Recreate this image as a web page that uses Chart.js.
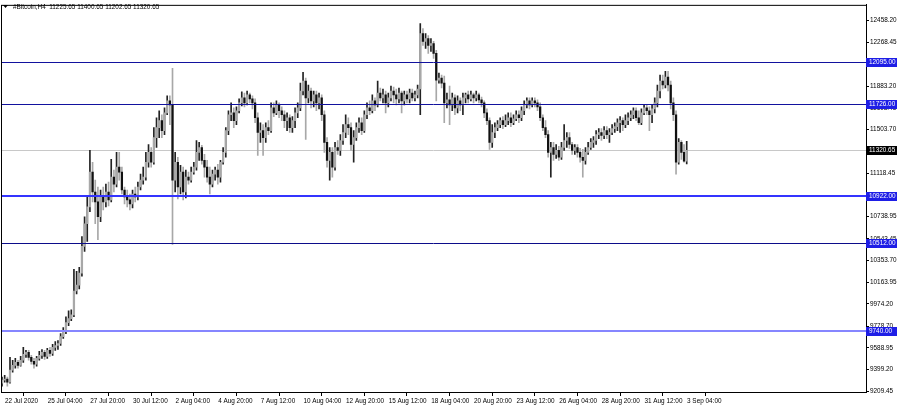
<!DOCTYPE html>
<html>
<head>
<meta charset="utf-8">
<script src="https://cdn.jsdelivr.net/npm/chart.js@4.4.1/dist/chart.umd.min.js"></script>
<style>
  html, body { margin: 0; padding: 0; background: #fff; }
  canvas { display: block; }
</style>
</head>
<body>
<canvas id="btcChart" width="900" height="407"></canvas>
<script>
// #Bitcoin H4, 22 Jul 2020 12:00 .. 3 Sep 2020 08:00
const opens = [
  9279, 9305, 9314, 9288, 9392, 9435, 9461, 9435, 9479, 9531,
  9548, 9505, 9470, 9444, 9496, 9522, 9548, 9514, 9566, 9540,
  9592, 9609, 9626, 9687, 9739, 9809, 9844, 9878, 10087, 10139,
  10243, 10478, 10677, 10825, 11129, 10955, 10869, 10738, 10912, 10869,
  10955, 10886, 11086, 11025, 11173, 11129, 10973, 10912, 10886, 10851,
  10938, 10912, 10999, 11060, 11086, 11216, 11303, 11216, 11433, 11520,
  11581, 11494, 11650, 11755, 11720, 11060, 11216, 10999, 11129, 10955,
  11086, 11060, 11129, 11173, 11303, 11346, 11233, 11173, 11086, 11025,
  11112, 11147, 11086, 11216, 11303, 11494, 11633, 11650, 11581, 11668,
  11737, 11781, 11737, 11807, 11772, 11737, 11607, 11477, 11494, 11433,
  11520, 11494, 11694, 11650, 11720, 11668, 11633, 11581, 11607, 11520,
  11581, 11650, 11694, 11841, 11928, 11781, 11841, 11755, 11807, 11737,
  11781, 11633, 11390, 11233, 11303, 11173, 11346, 11320, 11407, 11477,
  11546, 11520, 11372, 11433, 11520, 11563, 11494, 11633, 11694, 11668,
  11755, 11720, 11824, 11781, 11807, 11737, 11781, 11841, 11807, 11772,
  11824, 11755, 11807, 11772, 11824, 11781, 11807, 11859, 12345, 12276,
  12302, 12241, 12258, 12172, 11937, 11954, 11911, 11737, 11763, 11720,
  11781, 11694, 11755, 11720, 11781, 11807, 11772, 11807, 11781, 11807,
  11763, 11737, 11650, 11581, 11390, 11477, 11520, 11546, 11581, 11546,
  11581, 11607, 11563, 11598, 11633, 11607, 11668, 11720, 11755, 11720,
  11755, 11737, 11702, 11607, 11520, 11459, 11303, 11346, 11286, 11320,
  11260, 11346, 11407, 11433, 11372, 11320, 11346, 11303, 11260, 11233,
  11303, 11346, 11390, 11407, 11459, 11477, 11451, 11494, 11459, 11477,
  11511, 11529, 11563, 11581, 11546, 11581, 11607, 11633, 11668, 11607,
  11563, 11650, 11694, 11668, 11633, 11685, 11737, 11841, 11928, 11894,
  11963, 11894, 11737, 11633, 11216, 11390, 11303, 11225.65
];
const highs = [
  9331, 9348, 9331, 9505, 9479, 9496, 9479, 9514, 9592, 9566,
  9566, 9522, 9496, 9514, 9557, 9574, 9566, 9583, 9592, 9618,
  9644, 9652, 9713, 9765, 9861, 9913, 9922, 10278, 10260, 10295,
  10565, 10738, 10912, 11320, 11216, 11060, 10999, 10973, 10999, 11025,
  11042, 11242, 11147, 11303, 11303, 11173, 10999, 10973, 10938, 10973,
  10999, 11042, 11112, 11173, 11303, 11372, 11346, 11520, 11607, 11668,
  11633, 11694, 11798, 11798, 12041, 11303, 11260, 11190, 11173, 11147,
  11129, 11173, 11216, 11407, 11390, 11364, 11286, 11233, 11173, 11147,
  11173, 11199, 11233, 11346, 11520, 11668, 11737, 11694, 11702, 11772,
  11833, 11824, 11841, 11824, 11798, 11772, 11650, 11563, 11546, 11563,
  11581, 11737, 11737, 11755, 11737, 11702, 11668, 11650, 11633, 11616,
  11694, 11737, 11911, 12006, 11954, 11894, 11868, 11841, 11841, 11824,
  11807, 11668, 11433, 11346, 11346, 11390, 11407, 11459, 11546, 11633,
  11607, 11563, 11494, 11563, 11607, 11607, 11668, 11737, 11755, 11807,
  11781, 11928, 11868, 11859, 11841, 11824, 11885, 11876, 11859, 11868,
  11841, 11841, 11841, 11859, 11859, 11841, 11894, 12432, 12389, 12345,
  12328, 12302, 12276, 12198, 11998, 11980, 11972, 11824, 11885, 11824,
  11807, 11798, 11781, 11824, 11824, 11841, 11841, 11824, 11841, 11824,
  11789, 11755, 11685, 11607, 11546, 11563, 11581, 11607, 11616, 11633,
  11650, 11650, 11633, 11668, 11668, 11702, 11755, 11781, 11781, 11781,
  11781, 11763, 11737, 11633, 11581, 11494, 11390, 11390, 11372, 11355,
  11390, 11546, 11477, 11477, 11390, 11372, 11372, 11338, 11329, 11346,
  11390, 11424, 11442, 11494, 11511, 11511, 11529, 11529, 11511, 11546,
  11563, 11598, 11616, 11607, 11633, 11650, 11668, 11694, 11694, 11668,
  11685, 11720, 11720, 11702, 11720, 11781, 11894, 11980, 11980, 12015,
  12015, 11928, 11781, 11668, 11424, 11407, 11372, 11400.65
];
const lows = [
  9253, 9288, 9253, 9279, 9374, 9409, 9409, 9427, 9461, 9505,
  9479, 9444, 9409, 9427, 9479, 9496, 9487, 9496, 9514, 9522,
  9566, 9574, 9609, 9670, 9713, 9783, 9826, 9861, 10061, 10104,
  10217, 10434, 10521, 10782, 10869, 10677, 10538, 10695, 10799, 10825,
  10834, 10869, 10955, 10999, 11060, 10938, 10851, 10825, 10799, 10816,
  10869, 10886, 10973, 11025, 11060, 11173, 11173, 11199, 11346, 11433,
  11433, 11459, 11633, 11546, 10495, 10955, 10895, 10938, 10886, 10903,
  11025, 11042, 11112, 11147, 11233, 11199, 11086, 11042, 10938, 10999,
  11060, 11025, 11042, 11199, 11260, 11459, 11581, 11520, 11546, 11650,
  11711, 11702, 11720, 11737, 11685, 11563, 11277, 11390, 11277, 11390,
  11459, 11477, 11616, 11633, 11607, 11581, 11520, 11494, 11477, 11477,
  11520, 11607, 11668, 11807, 11416, 11737, 11694, 11702, 11668, 11685,
  11581, 11303, 11173, 11060, 11086, 11147, 11286, 11277, 11372, 11433,
  11459, 11320, 11216, 11407, 11477, 11459, 11477, 11598, 11633, 11650,
  11668, 11702, 11755, 11737, 11650, 11702, 11755, 11737, 11720, 11737,
  11650, 11720, 11737, 11737, 11755, 11755, 11781, 11633, 12241, 12215,
  12172, 12189, 12128, 11755, 11911, 11868, 11563, 11694, 11546, 11668,
  11633, 11650, 11668, 11633, 11737, 11737, 11755, 11737, 11755, 11737,
  11702, 11607, 11546, 11329, 11346, 11433, 11494, 11520, 11511, 11529,
  11546, 11529, 11546, 11581, 11563, 11581, 11633, 11694, 11685, 11702,
  11702, 11668, 11581, 11494, 11433, 11260, 11086, 11233, 11251, 11233,
  11242, 11320, 11346, 11338, 11286, 11286, 11260, 11216, 11086, 11199,
  11286, 11329, 11346, 11372, 11424, 11407, 11424, 11424, 11390, 11459,
  11477, 11494, 11477, 11494, 11520, 11546, 11581, 11598, 11581, 11546,
  11546, 11633, 11633, 11494, 11563, 11650, 11702, 11781, 11859, 11868,
  11841, 11685, 11581, 11112, 11199, 11242, 11216, 11202.65
];
const closes = [
  9305, 9314, 9288, 9392, 9435, 9461, 9435, 9479, 9531, 9548,
  9505, 9470, 9444, 9496, 9522, 9548, 9514, 9566, 9540, 9592,
  9609, 9626, 9687, 9739, 9809, 9844, 9878, 10087, 10139, 10243,
  10478, 10677, 10825, 11129, 10955, 10869, 10738, 10912, 10869, 10955,
  10886, 11086, 11025, 11173, 11129, 10973, 10912, 10886, 10851, 10938,
  10912, 10999, 11060, 11086, 11216, 11303, 11216, 11433, 11520, 11581,
  11494, 11650, 11755, 11720, 11060, 11216, 10999, 11129, 10955, 11086,
  11060, 11129, 11173, 11303, 11346, 11233, 11173, 11086, 11025, 11112,
  11147, 11086, 11216, 11303, 11494, 11633, 11650, 11581, 11668, 11737,
  11781, 11737, 11807, 11772, 11737, 11607, 11477, 11494, 11433, 11520,
  11494, 11694, 11650, 11720, 11668, 11633, 11581, 11607, 11520, 11581,
  11650, 11694, 11841, 11928, 11781, 11841, 11755, 11807, 11737, 11781,
  11633, 11390, 11233, 11303, 11173, 11346, 11320, 11407, 11477, 11546,
  11520, 11372, 11433, 11520, 11563, 11494, 11633, 11694, 11668, 11755,
  11720, 11824, 11781, 11807, 11737, 11781, 11841, 11807, 11772, 11824,
  11755, 11807, 11772, 11824, 11781, 11807, 11859, 12345, 12276, 12302,
  12241, 12258, 12172, 11937, 11954, 11911, 11737, 11763, 11720, 11781,
  11694, 11755, 11720, 11781, 11807, 11772, 11807, 11781, 11807, 11763,
  11737, 11650, 11581, 11390, 11477, 11520, 11546, 11581, 11546, 11581,
  11607, 11563, 11598, 11633, 11607, 11668, 11720, 11755, 11720, 11755,
  11737, 11702, 11607, 11520, 11459, 11303, 11346, 11286, 11320, 11260,
  11346, 11407, 11433, 11372, 11320, 11346, 11303, 11260, 11233, 11303,
  11346, 11390, 11407, 11459, 11477, 11451, 11494, 11459, 11477, 11511,
  11529, 11563, 11581, 11546, 11581, 11607, 11633, 11668, 11607, 11563,
  11650, 11694, 11668, 11633, 11685, 11737, 11841, 11928, 11894, 11963,
  11894, 11737, 11633, 11216, 11390, 11303, 11225, 11320.65
];

// time axis: bar index -> label
const tickBars = [0, 16, 32, 48, 64, 80, 96, 112, 128, 144, 160, 176, 192, 208, 224, 240, 256];
const tickLabels = ['22 Jul 2020', '25 Jul 04:00', '27 Jul 20:00', '30 Jul 12:00', '2 Aug 04:00',
  '4 Aug 20:00', '7 Aug 12:00', '10 Aug 04:00', '12 Aug 20:00', '15 Aug 12:00', '18 Aug 04:00',
  '20 Aug 20:00', '23 Aug 12:00', '26 Aug 04:00', '28 Aug 20:00', '31 Aug 12:00', '3 Sep 04:00'];

const priceTicks = [9209.45, 9399.20, 9588.95, 9778.70, 9974.20, 10163.95, 10353.70, 10543.45,
  10738.95, 10928.70, 11118.45, 11308.20, 11503.70, 11693.45, 11883.20, 12078.95, 12268.45, 12458.20];

const levels = [12095.00, 11726.00, 10922.00, 10512.00, 9740.00];
const levelColors = ['#12129e', '#12129e', '#3434ff', '#0c0c8a', '#8686ff'];
const levelWidths = [1, 1, 2, 1, 2];
const lastPrice = 11320.65;
const symbolText = '#Bitcoin,H4  11225.65 11400.65 11202.65 11320.65';

const FONT = '"Liberation Sans", Arial, sans-serif';
const bodyColors = closes.map((c, i) => c >= opens[i] ? '#a8a8a8' : '#111111');
const wickColors = closes.map((c, i) => c >= opens[i] ? '#222222' : '#a8a8a8');

const overlay = {
  id: 'overlay',
  beforeDatasetsDraw(chart) {
    const { ctx, chartArea: a, scales: { y } } = chart;
    ctx.save();
    ctx.strokeStyle = '#c8c8c8';
    ctx.lineWidth = 1;
    const py = Math.round(y.getPixelForValue(lastPrice)) + 0.5;
    ctx.beginPath(); ctx.moveTo(a.left, py); ctx.lineTo(a.right, py); ctx.stroke();
    ctx.restore();
  },
  afterDatasetsDraw(chart) {
    const { ctx, chartArea: a, scales: { y } } = chart;
    ctx.save();
    levels.forEach((v, k) => {
      const w = levelWidths[k];
      const py = Math.round(y.getPixelForValue(v)) + (w % 2 ? 0.5 : 0);
      ctx.strokeStyle = levelColors[k];
      ctx.lineWidth = w;
      ctx.beginPath(); ctx.moveTo(a.left, py); ctx.lineTo(a.right, py); ctx.stroke();
    });
    ctx.restore();
  },
  afterDraw(chart) {
    const { ctx, chartArea: a, scales: { y } } = chart;
    ctx.save();
    // frame
    ctx.strokeStyle = '#000';
    ctx.lineWidth = 1;
    ctx.strokeRect(a.left + 0.5, a.top + 0.5, a.right - a.left, a.bottom - a.top);

    // price boxes on the axis
    ctx.font = '6.4px ' + FONT;
    ctx.textBaseline = 'middle';
    const box = (v, bg) => {
      const py = Math.round(y.getPixelForValue(v));
      ctx.fillStyle = bg;
      ctx.fillRect(a.right, py - 4, 31, 9);
      ctx.fillStyle = '#fff';
      ctx.fillText(v.toFixed(2), a.right + 3, py + 0.5);
    };
    levels.forEach(v => box(v, '#1e1ee6'));
    box(lastPrice, '#000');

    // symbol header
    ctx.fillStyle = '#000';
    ctx.beginPath();
    ctx.moveTo(3, 5); ctx.lineTo(8, 5); ctx.lineTo(5.5, 8); ctx.closePath(); ctx.fill();
    ctx.font = '6.4px ' + FONT;
    ctx.textBaseline = 'middle';
    ctx.fillText(symbolText, 13, 7);
    ctx.restore();
  }
};

const idx = closes.map((_, i) => i);

new Chart(document.getElementById('btcChart'), {
  type: 'bar',
  data: {
    datasets: [{
      label: 'body',
      data: idx.map(i => ({ x: i, y: [opens[i], closes[i]] })),
      backgroundColor: bodyColors,
      barThickness: 1.6,
      minBarLength: 1,
      grouped: false
    }, {
      label: 'wick',
      data: idx.map(i => ({ x: i, y: [lows[i], highs[i]] })),
      backgroundColor: wickColors,
      barThickness: 1,
      grouped: false
    }]
  },
  options: {
    responsive: false,
    animation: false,
    devicePixelRatio: 1,
    layout: { padding: { left: 1, top: 1, right: 0, bottom: 0 } },
    plugins: {
      legend: { display: false },
      tooltip: { enabled: false }
    },
    scales: {
      x: {
        type: 'linear',
        min: -0.375,
        max: 324.3,
        offset: false,
        afterBuildTicks: s => { s.ticks = tickBars.map(v => ({ value: v })); },
        afterFit: s => { s.height = 15; },
        ticks: {
          autoSkip: false,
          maxRotation: 0,
          align: 'start',
          labelOffset: 3,
          padding: 1,
          color: '#000',
          font: { family: FONT, size: 6.4 },
          callback: (v, i) => tickLabels[i]
        },
        grid: { drawOnChartArea: false, tickLength: 4, color: '#000' },
        border: { color: '#000' }
      },
      y: {
        position: 'right',
        min: 9200.8,
        max: 12597.2,
        afterBuildTicks: s => { s.ticks = priceTicks.map(v => ({ value: v })); },
        afterFit: s => { s.width = 34; },
        ticks: {
          padding: 1,
          color: '#000',
          font: { family: FONT, size: 6.4 },
          callback: v => v.toFixed(2)
        },
        grid: { drawOnChartArea: false, tickLength: 3, color: '#000' },
        border: { color: '#000' }
      }
    }
  },
  plugins: [overlay]
});
</script>
</body>
</html>
